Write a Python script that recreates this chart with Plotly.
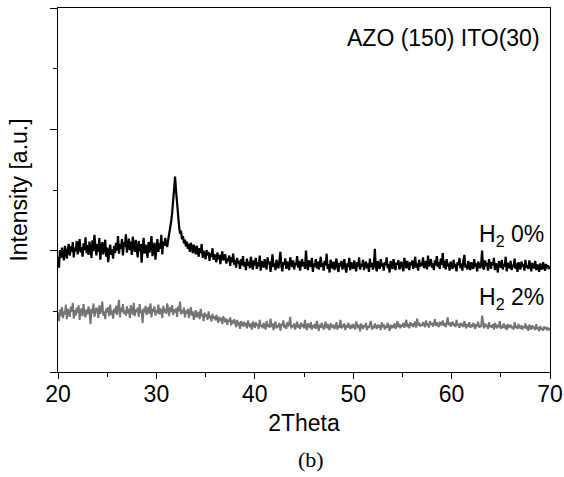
import plotly.graph_objects as go

# 2-theta sampling grid (degrees), 0.1 deg steps from 20 to 70
two_theta = [round(20 + 0.1 * i, 1) for i in range(501)]

# Intensity (a.u.), H2 0 %
h2_0 = [
    190, 172, 201, 188, 205, 193, 184, 208, 196, 187,
    203, 211, 192, 207, 198, 214, 189, 205, 199, 216,
    194, 208, 219, 197, 206, 190, 212, 201, 222, 196,
    209, 193, 215, 204, 188, 217, 199, 226, 203, 192,
    211, 198, 221, 185, 207, 214, 194, 203, 218, 190,
    205, 181, 199, 210, 193, 202, 187, 208, 196, 213,
    200, 224, 195, 211, 203, 219, 192, 214, 206, 227,
    197, 212, 220, 201, 215, 193, 223, 207, 198, 218,
    204, 189, 216, 199, 211, 180, 206, 221, 195, 210,
    202, 188, 214, 197, 209, 224, 191, 206, 213, 185,
    207, 219, 198, 212, 203, 226, 194, 215, 208, 221,
    211, 206, 218, 226, 236, 248, 262, 285, 312, 322,
    298, 274, 256, 241, 228, 233, 219, 224, 212, 218,
    207, 215, 203, 211, 198, 213, 205, 196, 210, 201,
    194, 208, 199, 190, 204, 196, 211, 188, 200, 193,
    186, 201, 192, 198, 183, 196, 190, 204, 185, 194,
    189, 181, 197, 186, 193, 178, 191, 199, 184, 188,
    194, 179, 187, 183, 192, 175, 189, 181, 195, 177,
    185, 172, 188, 179, 183, 170, 186, 176, 191, 174,
    181, 168, 187, 175, 182, 171, 190, 177, 169, 184,
    176, 188, 170, 181, 174, 192, 167, 183, 178, 172,
    186, 175, 169, 189, 178, 182, 165, 180, 194, 173,
    179, 168, 185, 176, 171, 183, 198, 174, 166, 181,
    177, 187, 170, 182, 175, 168, 189, 179, 173, 184,
    169, 180, 176, 191, 172, 183, 167, 178, 186, 174,
    181, 170, 200, 176, 168, 184, 177, 173, 188, 165,
    179, 174, 186, 171, 182, 169, 177, 190, 173, 180,
    167, 183, 176, 195, 170, 178, 164, 185, 175, 171,
    182, 168, 177, 187, 172, 165, 180, 174, 183, 169,
    176, 186, 171, 164, 179, 173, 188, 168, 181, 175,
    170, 184, 177, 166, 181, 173, 189, 169, 178, 174,
    185, 168, 176, 182, 171, 179, 165, 187, 173, 180,
    169, 177, 203, 172, 166, 183, 175, 170, 186, 174,
    179, 167, 181, 176, 189, 171, 178, 164, 183, 175,
    170, 186, 174, 168, 180, 177, 184, 169, 175, 182,
    173, 166, 188, 178, 171, 183, 175, 168, 181, 176,
    184, 170, 177, 190, 172, 179, 167, 185, 174, 180,
    175, 189, 171, 178, 183, 169, 192, 174, 180, 186,
    172, 179, 168, 184, 176, 191, 173, 181, 170, 187,
    177, 196, 172, 183, 169, 186, 174, 179, 167, 182,
    175, 170, 185, 173, 178, 166, 181, 176, 188, 171,
    179, 167, 184, 193, 172, 177, 169, 183, 174, 168,
    181, 175, 170, 186, 173, 179, 166, 182, 176, 171,
    178, 200, 172, 169, 184, 175, 180, 167, 186, 173,
    170, 181, 176, 188, 168, 179, 174, 164, 183, 177,
    172, 185, 169, 178, 174, 190, 166, 180, 175, 171,
    183, 168, 177, 173, 187, 170, 179, 165, 181, 176,
    169, 182, 174, 178, 167, 185, 172, 176, 170, 184,
    173, 166, 180, 175, 171, 183, 168, 177, 174, 165,
    179, 172, 169, 181, 175, 167, 178, 171, 176, 170,
    174,
]

# Intensity (a.u.), H2 2 %
h2_2 = [
    98, 84, 103, 92, 107, 89, 100, 95, 111, 87,
    104, 96, 91, 108, 99, 114, 88, 102, 93, 106,
    97, 110, 86, 101, 105, 92, 112, 98, 90, 103,
    95, 108, 100, 79, 104, 97, 113, 91, 99, 106,
    102, 89, 110, 96, 103, 116, 93, 100, 87, 105,
    98, 107, 92, 111, 95, 101, 88, 104, 97, 109,
    94, 103, 119, 90, 106, 99, 112, 96, 101, 93,
    108, 97, 104, 89, 110, 100, 95, 114, 92, 103,
    99, 106, 91, 112, 97, 102, 81, 105, 98, 109,
    94, 101, 107, 96, 113, 90, 104, 99, 108, 93,
    102, 97, 111, 95, 105, 100, 89, 109, 98, 104,
    96, 113, 101, 92, 107, 99, 110, 94, 103, 98,
    105, 91, 108, 100, 116, 95, 102, 97, 106, 90,
    101, 96, 104, 89, 99, 107, 93, 100, 86, 97,
    102, 90, 95, 99, 87, 104, 92, 96, 84, 98,
    91, 95, 86, 100, 89, 93, 83, 96, 88, 92,
    85, 94, 87, 81, 91, 84, 89, 79, 92, 86,
    82, 88, 78, 86, 83, 90, 77, 85, 80, 87,
    79, 74, 86, 77, 82, 71, 84, 78, 75, 83,
    76, 81, 72, 85, 78, 74, 80, 70, 83, 77,
    73, 82, 76, 79, 71, 86, 75, 78, 72, 81,
    77, 70, 84, 75, 79, 73, 88, 74, 80, 69,
    78, 83, 72, 77, 74, 81, 68, 79, 76, 85,
    73, 78, 71, 82, 75, 79, 91, 72, 77, 74,
    80, 70, 76, 83, 73, 78, 71, 81, 75, 79,
    72, 86, 74, 69, 80, 76, 73, 82, 70, 77,
    75, 79, 71, 84, 74, 68, 78, 73, 81, 76,
    70, 77, 83, 72, 79, 74, 69, 80, 76, 73,
    78, 71, 75, 82, 70, 77, 73, 86, 72, 76,
    74, 80, 69, 77, 73, 81, 75, 71, 78, 72,
    79, 74, 70, 83, 76, 72, 78, 67, 80, 75,
    71, 77, 74, 81, 69, 76, 73, 79, 84, 70,
    76, 72, 80, 75, 71, 78, 73, 77, 69, 82,
    74, 79, 70, 76, 73, 81, 75, 68, 78, 72,
    77, 73, 80, 71, 76, 84, 74, 79, 72, 78,
    75, 81, 73, 78, 86, 74, 79, 72, 82, 76,
    80, 74, 78, 83, 73, 88, 77, 81, 75, 79,
    76, 82, 78, 74, 85, 77, 80, 73, 84, 78,
    81, 75, 79, 87, 76, 82, 78, 74, 83, 77,
    79, 85, 76, 81, 74, 80, 90, 77, 82, 75,
    78, 83, 76, 80, 74, 86, 77, 79, 73, 81,
    76, 80, 74, 84, 77, 72, 79, 75, 82, 73,
    78, 74, 81, 76, 71, 79, 75, 83, 73, 77,
    74, 93, 76, 72, 80, 75, 78, 71, 82, 74,
    77, 73, 79, 70, 81, 75, 72, 78, 74, 84,
    71, 76, 73, 80, 72, 77, 69, 79, 74, 75,
    78, 72, 75, 70, 82, 73, 76, 71, 79, 74,
    72, 77, 70, 75, 73, 80, 71, 76, 68, 78,
    73, 70, 77, 72, 75, 69, 79, 71, 74, 67,
    76, 70, 73, 68, 75, 71, 74, 69, 72, 70,
    72,
]

x_ticks = [20, 30, 40, 50, 60, 70]
x_tick_labels = ["20", "30", "40", "50", "60", "70"]
series_labels = ["H<sub>2</sub> 0%", "H<sub>2</sub> 2%"]
sample_label = "AZO (150) ITO(30)"
panel_label = "(b)"

FONT = "Liberation Sans, Arial, sans-serif"
FS = 23

# page body margin is removed below, so figure pixels == window pixels
W, H = 564, 477
L, T = 58, 8
PW, PH = 492, 364
R = W - L - PW
B = H - T - PH


def px(xw):
    return (xw - L) / PW


def py(yw):
    return (T + PH - yw) / PH


fig = go.Figure()
fig.add_trace(go.Scatter(x=two_theta, y=h2_2, mode="lines",
                         line=dict(color="#747474", width=2), showlegend=False))
fig.add_trace(go.Scatter(x=two_theta, y=h2_0, mode="lines",
                         line=dict(color="#000000", width=2.2), showlegend=False))

fig.update_layout(
    width=W, height=H,
    margin=dict(l=L, r=R, t=T, b=B),
    paper_bgcolor="white", plot_bgcolor="white",
    font=dict(family=FONT, size=FS, color="black"),
    xaxis=dict(
        range=[20, 70], tickmode="array", tickvals=x_ticks, ticktext=x_tick_labels,
        ticks="outside", ticklen=6, tickwidth=1.2, tickcolor="black",
        minor=dict(dtick=5, tick0=20, ticks="outside", ticklen=3.5, tickwidth=1.2, tickcolor="black"),
        showline=True, linecolor="black", linewidth=1.3, mirror=True,
        showgrid=False, zeroline=False, automargin=False,
        tickfont=dict(family=FONT, size=FS), ticklabelstandoff=-5,
        title=dict(text="2Theta", font=dict(family=FONT, size=FS), standoff=9),
    ),
    yaxis=dict(
        range=[0, 600], tickmode="linear", tick0=0, dtick=200, showticklabels=False,
        ticks="outside", ticklen=7, tickwidth=1.2, tickcolor="black",
        minor=dict(dtick=100, tick0=0, ticks="outside", ticklen=4, tickwidth=1.2, tickcolor="black"),
        showline=True, linecolor="black", linewidth=1.3, mirror=True,
        showgrid=False, zeroline=False, automargin=False,
        title=dict(text="Intensity [a.u.]", font=dict(family=FONT, size=FS), standoff=15),
    ),
    annotations=[
        dict(text=sample_label, xref="paper", yref="paper", x=px(542), y=py(38),
             xanchor="right", yanchor="middle", showarrow=False,
             font=dict(family=FONT, size=FS)),
        dict(text=series_labels[0], xref="paper", yref="paper", x=px(546), y=py(235),
             xanchor="right", yanchor="middle", showarrow=False,
             font=dict(family=FONT, size=FS)),
        dict(text=series_labels[1], xref="paper", yref="paper", x=px(546), y=py(298),
             xanchor="right", yanchor="middle", showarrow=False,
             font=dict(family=FONT, size=FS)),
        dict(text=panel_label, xref="paper", yref="paper", x=px(311), y=py(459),
             xanchor="center", yanchor="middle", showarrow=False,
             font=dict(family="Liberation Serif, Times New Roman, serif", size=22)),
    ],
)

fig.write_html(
    "out.html",
    config={"displayModeBar": False},
    post_script="document.body.style.margin='0';document.body.style.overflow='hidden';",
)
